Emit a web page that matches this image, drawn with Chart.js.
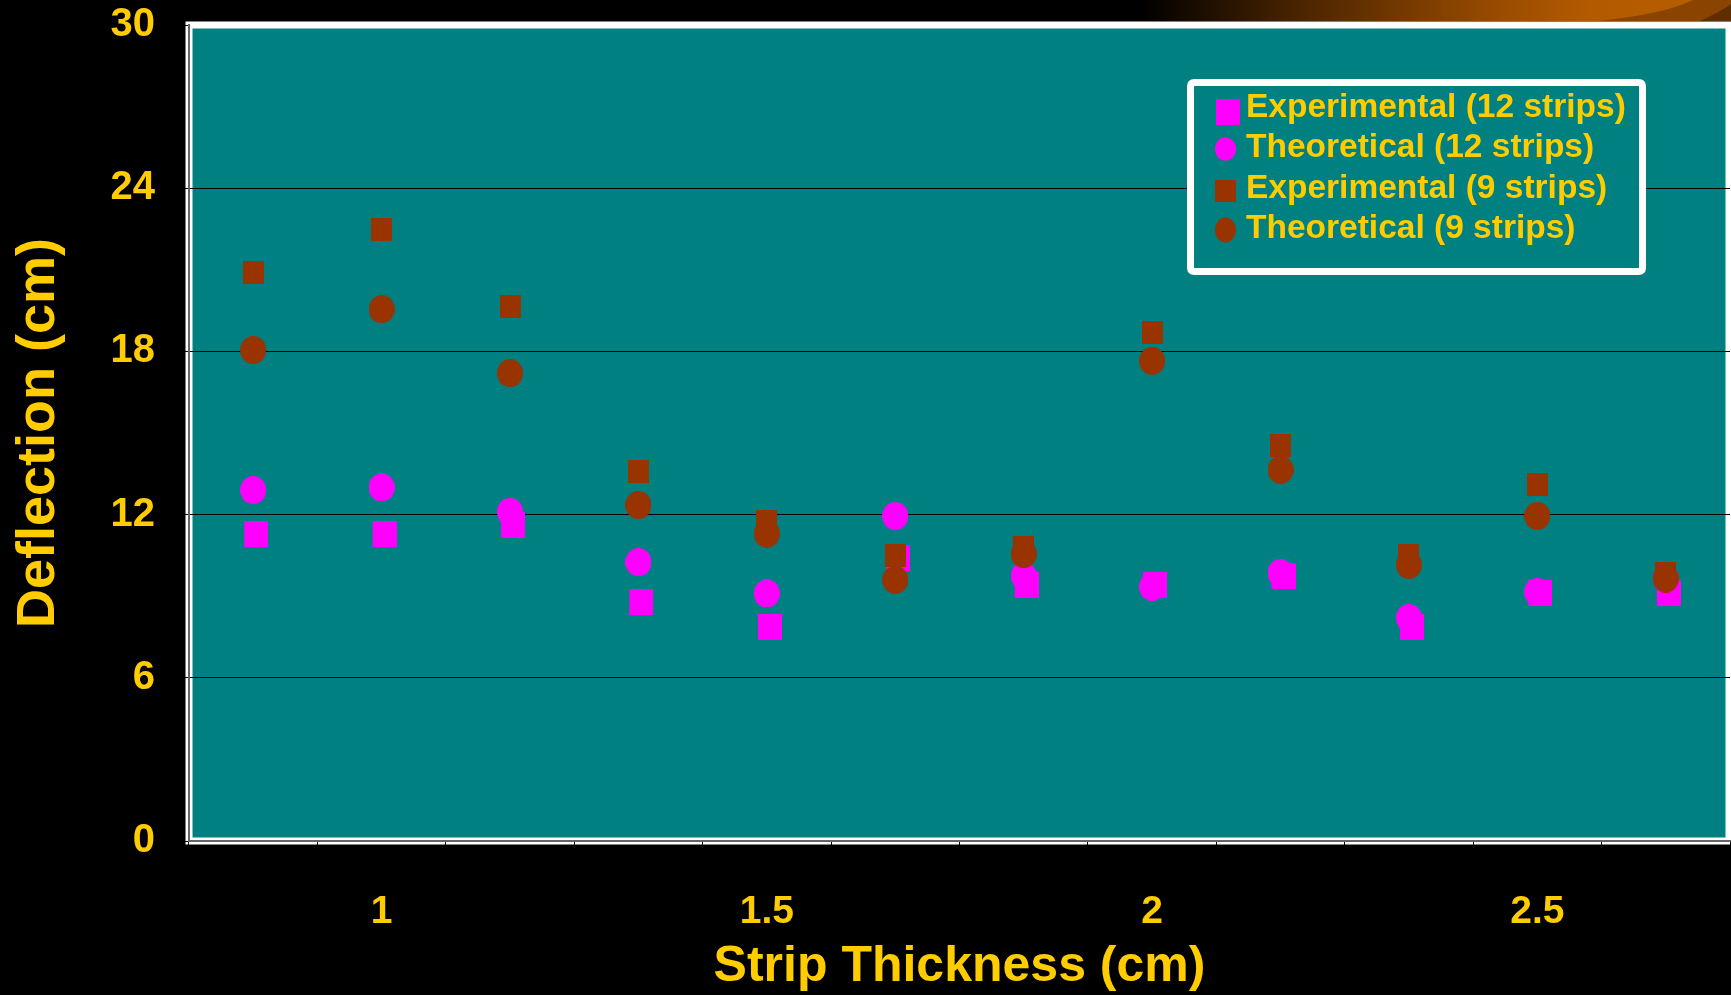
<!DOCTYPE html>
<html><head><meta charset="utf-8">
<script src="https://cdn.jsdelivr.net/npm/chart.js@4.4.1/dist/chart.umd.min.js"></script>
<style>html,body{margin:0;padding:0;background:#000;overflow:hidden;} #wrap{width:1731px;height:995px;position:relative;}</style>
</head><body><div id="wrap"><canvas id="c" width="1731" height="995"></canvas></div>
<script>
// ---- data ----
const categories = ['0.83', '1', '1.17', '1.33', '1.5', '1.67', '1.83', '2', '2.17', '2.33', '2.5', '2.67'];
const tickLabels = ['', '1', '', '', '1.5', '', '', '2', '', '', '2.5', ''];
const yTicks = [0, 6, 12, 18, 24, 30];
const seriesNames = ['Experimental (12 strips)', 'Theoretical (12 strips)', 'Experimental (9 strips)', 'Theoretical (9 strips)'];
const experimental12 = [11.3, 11.3, 11.6, 8.8, 7.85, 10.4, 9.4, 9.4, 9.75, 7.85, 9.1, 9.1];
const theoretical12  = [12.9, 13.0, 12.1, 10.25, 9.1, 11.95, 9.75, 9.35, 9.85, 8.2, 9.15, 9.65];
const experimental9  = [20.9, 22.5, 19.65, 13.6, 11.75, 10.5, 10.8, 18.7, 14.55, 10.5, 13.1, 9.85];
const theoretical9   = [18.05, 19.55, 17.2, 12.35, 11.3, 9.6, 10.55, 17.65, 13.65, 10.15, 11.95, 9.65];

// ---- styles ----
const FONT = "'Liberation Sans', Arial, Helvetica, sans-serif";
const GOLD = '#FFCC00';
const TEAL = '#008080';
const MAGENTA = '#FF00FF';
const BROWN = '#993300';

function makeRect(w, h, color, shiftX) {
  const c = document.createElement('canvas');
  c.width = w + 2 * Math.abs(shiftX); c.height = h;
  const x = c.getContext('2d');
  x.fillStyle = color;
  x.fillRect(Math.abs(shiftX) + shiftX, 0, w, h);
  return c;
}
function makeEllipse(w, h, color) {
  const c = document.createElement('canvas');
  c.width = w; c.height = h;
  const x = c.getContext('2d');
  x.fillStyle = color;
  x.beginPath(); x.ellipse(w / 2, h / 2, w / 2, h / 2, 0, 0, Math.PI * 2); x.fill();
  return c;
}
const magSq = makeRect(24, 26, MAGENTA, 3);
const magCi = makeEllipse(26, 28, MAGENTA);
const brSq = makeRect(21, 23, BROWN, 0);
const brCi = makeEllipse(26, 28, BROWN);

const framePlugin = {
  id: 'frame',
  beforeDraw(chart) {
    const {ctx, chartArea: a} = chart;
    ctx.save();
    ctx.fillStyle = '#000';
    ctx.fillRect(0, 0, chart.width, chart.height);
    // decorative band at top right
    const g = ctx.createLinearGradient(1140, 0, 1731, 0);
    g.addColorStop(0, '#000000');
    g.addColorStop(0.27, '#4a2400');
    g.addColorStop(0.47, '#7a3c00');
    g.addColorStop(0.61, '#9a4c00');
    g.addColorStop(0.76, '#b35a00');
    g.addColorStop(1, '#b85e00');
    ctx.fillStyle = g;
    ctx.fillRect(1140, 0, 591, 21);
    ctx.fillStyle = '#8a4400';
    ctx.beginPath(); ctx.moveTo(1598, 21); ctx.quadraticCurveTo(1665, 14, 1693, 0);
    ctx.lineTo(1731, 0); ctx.lineTo(1731, 21); ctx.closePath(); ctx.fill();
    ctx.fillStyle = '#5e2e00';
    ctx.beginPath(); ctx.moveTo(1700, 21); ctx.quadraticCurveTo(1720, 12, 1731, 4);
    ctx.lineTo(1731, 21); ctx.closePath(); ctx.fill();
    // plot area
    ctx.fillStyle = TEAL;
    ctx.fillRect(a.left, a.top, a.right - a.left, a.bottom - a.top);
    ctx.strokeStyle = '#ffffff';
    ctx.lineWidth = 7;
    ctx.strokeRect(a.left, a.top, a.right - a.left - 1, a.bottom - a.top);
    ctx.restore();
  }
};

const legendPlugin = {
  id: 'boxLegend',
  afterDraw(chart) {
    const {ctx} = chart;
    const ds = chart.data.datasets;
    ctx.save();
    const x = 1190.5, y = 82.5, w = 452, h = 189, r = 4;
    ctx.beginPath();
    ctx.moveTo(x + r, y); ctx.lineTo(x + w - r, y); ctx.quadraticCurveTo(x + w, y, x + w, y + r);
    ctx.lineTo(x + w, y + h - r); ctx.quadraticCurveTo(x + w, y + h, x + w - r, y + h);
    ctx.lineTo(x + r, y + h); ctx.quadraticCurveTo(x, y + h, x, y + h - r);
    ctx.lineTo(x, y + r); ctx.quadraticCurveTo(x, y, x + r, y); ctx.closePath();
    ctx.fillStyle = TEAL; ctx.fill();
    ctx.strokeStyle = '#ffffff'; ctx.lineWidth = 7; ctx.stroke();

    const textY = [108, 148, 189, 229];
    const markY = [112, 149, 191, 230];
    ctx.font = 'bold 33.5px ' + FONT;
    ctx.textBaseline = 'middle';
    ctx.textAlign = 'left';
    ds.forEach((d, i) => {
      ctx.fillStyle = d.backgroundColor;
      if (i === 0) ctx.fillRect(1216, markY[i] - 13, 24, 26);
      else if (i === 2) ctx.fillRect(1215, markY[i] - 11, 21, 22);
      else {
        ctx.beginPath();
        ctx.ellipse(1225.5, markY[i], 10.5, i === 1 ? 11.5 : 12.5, 0, 0, Math.PI * 2);
        ctx.fill();
      }
      ctx.fillStyle = GOLD;
      ctx.fillText(d.label, 1246, textY[i]);
    });
    ctx.restore();
  }
};

new Chart(document.getElementById('c'), {
  type: 'line',
  data: {
    labels: categories,
    datasets: [
      {label: seriesNames[0], data: experimental12, pointStyle: magSq, backgroundColor: MAGENTA, borderColor: MAGENTA, order: 4},
      {label: seriesNames[1], data: theoretical12, pointStyle: magCi, backgroundColor: MAGENTA, borderColor: MAGENTA, order: 3},
      {label: seriesNames[2], data: experimental9, pointStyle: brSq, backgroundColor: BROWN, borderColor: BROWN, order: 2},
      {label: seriesNames[3], data: theoretical9, pointStyle: brCi, backgroundColor: BROWN, borderColor: BROWN, order: 1}
    ]
  },
  options: {
    responsive: false,
    devicePixelRatio: 1,
    animation: false,
    events: [],
    showLine: false,
    clip: false,
    elements: {point: {radius: 1, hoverRadius: 1, borderWidth: 0, hoverBorderWidth: 0}, line: {borderWidth: 0}},
    layout: {padding: {top: 25, right: 0, bottom: 0, left: 0}},
    plugins: {legend: {display: false}, tooltip: {enabled: false}},
    scales: {
      x: {
        type: 'category',
        offset: true,
        grid: {offset: true, drawOnChartArea: false, drawTicks: true, tickLength: 5, color: '#000', lineWidth: 1},
        border: {display: true, color: '#666666', width: 2},
        ticks: {
          autoSkip: false, maxRotation: 0, minRotation: 0, padding: 43, color: GOLD,
          font: {family: FONT, weight: 'bold', size: 39, lineHeight: 1.2},
          callback: (v, i) => tickLabels[i]
        },
        title: {display: true, text: 'Strip Thickness (cm)', color: GOLD,
          font: {family: FONT, weight: 'bold', size: 50, lineHeight: 1}, padding: {top: 0, bottom: 3}},
        afterFit: s => { s.height = 154; s.paddingLeft = 0; s.paddingRight = 0; }
      },
      y: {
        min: 0, max: 30,
        afterBuildTicks: s => { s.ticks = yTicks.map(v => ({value: v})); },
        grid: {
          color: c => (c.tick && c.tick.value === 30) ? 'rgba(0,0,0,0)' : '#000000',
          tickColor: '#000000', tickLength: 4, lineWidth: 1
        },
        border: {display: true, color: '#666666', width: 2},
        ticks: {padding: 30, color: GOLD, font: {family: FONT, weight: 'bold', size: 40, lineHeight: 1.2}},
        title: {display: true, text: 'Deflection (cm)', color: GOLD,
          font: {family: FONT, weight: 'bold', size: 54, lineHeight: 1}, padding: {top: 12, bottom: 0}},
        afterFit: s => { s.width = 189; s.paddingTop = 0; s.paddingBottom = 0; }
      }
    }
  },
  plugins: [framePlugin, legendPlugin]
});
</script>
</body></html>
